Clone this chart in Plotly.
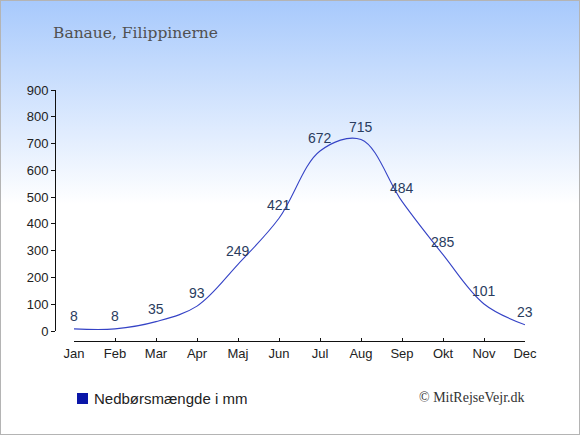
import plotly.graph_objects as go

# data
months = ['Jan', 'Feb', 'Mar', 'Apr', 'Maj', 'Jun', 'Jul', 'Aug', 'Sep', 'Okt', 'Nov', 'Dec']
rain_mm = [8, 8, 35, 93, 249, 421, 672, 715, 484, 285, 101, 23]
y_ticks = [0, 100, 200, 300, 400, 500, 600, 700, 800, 900]

title_text = 'Banaue, Filippinerne'
legend_text = 'Nedbørsmængde i mm'
credit_text = '© MitRejseVejr.dk'

W, H = 580, 435

# baggrund: lodret gradient fra lyseblå til hvid
bg_svg = (
    "data:image/svg+xml;utf8,"
    "<svg xmlns='http://www.w3.org/2000/svg' width='580' height='435' preserveAspectRatio='none'>"
    "<defs><linearGradient id='g' x1='0' y1='0' x2='0' y2='1'>"
    "<stop offset='0' stop-color='%23a7c9fc'/>"
    "<stop offset='0.47' stop-color='%23ffffff'/>"
    "<stop offset='1' stop-color='%23ffffff'/>"
    "</linearGradient></defs>"
    "<rect width='580' height='435' fill='url(%23g)'/></svg>"
)

fig = go.Figure()

fig.add_trace(go.Scatter(
    x=list(range(len(months))),
    y=rain_mm,
    mode='lines',
    line=dict(color='#3543c6', width=1.1, shape='spline', smoothing=1.0),
    cliponaxis=False,
    showlegend=False,
    hoverinfo='skip',
))

# værdier over kurven
annotations = []
for i, v in enumerate(rain_mm):
    annotations.append(dict(
        x=i, y=v, xref='x', yref='y', text=str(v), showarrow=False,
        xanchor='center', yanchor='middle', yshift=13,
        font=dict(family='Liberation Sans, Arial', size=14, color='#2a3c5e'),
    ))

annotations += [
    dict(text=title_text, xref='paper', yref='paper',
         x=51 / W, y=1 - 33 / H, xanchor='left', yanchor='middle',
         showarrow=False,
         font=dict(family='DejaVu Serif', size=15.5, color='#505050')),
    dict(text=legend_text, xref='paper', yref='paper',
         x=92 / W, y=1 - 398 / H, xanchor='left', yanchor='middle',
         showarrow=False,
         font=dict(family='Liberation Sans, Arial', size=15, color='#222222')),
    dict(text=credit_text, xref='paper', yref='paper',
         x=527 / W, y=1 - 397 / H, xanchor='right', yanchor='middle',
         showarrow=False,
         font=dict(family='Liberation Serif, Times New Roman', size=14, color='#333333')),
]

fig.update_layout(
    width=W, height=H,
    margin=dict(l=0, r=0, t=0, b=0, pad=0, autoexpand=False),
    paper_bgcolor='rgba(0,0,0,0)',
    plot_bgcolor='rgba(0,0,0,0)',
    showlegend=False,
    images=[dict(source=bg_svg, xref='paper', yref='paper', x=0, y=1,
                 sizex=1, sizey=1, sizing='stretch', layer='below')],
    xaxis=dict(
        domain=[74 / W, 525 / W],
        range=[0, len(months) - 1],
        anchor='free', position=94 / H,
        tickmode='array',
        tickvals=list(range(len(months))),
        ticktext=months,
        showline=True, linecolor='#111', linewidth=1,
        ticks='inside', ticklen=3, tickcolor='#111',
        showgrid=False, zeroline=False, automargin=False,
        tickfont=dict(family='Liberation Sans, Arial', size=13, color='#222'),
    ),
    yaxis=dict(
        domain=[104 / H, 345 / H],
        range=[0, 900],
        anchor='free', position=55 / W,
        tickmode='array',
        tickvals=y_ticks,
        showline=True, linecolor='#111', linewidth=1,
        ticks='outside', ticklen=4, tickcolor='#111',
        showgrid=False, zeroline=False, automargin=False,
        tickfont=dict(family='Liberation Sans, Arial', size=13, color='#222'),
    ),
    annotations=annotations,
    shapes=[
        # forklaringens firkant
        dict(type='rect', xref='paper', yref='paper',
             x0=77 / W, x1=88 / W, y0=1 - 404 / H, y1=1 - 393 / H,
             line=dict(color='#0a16a8', width=0), fillcolor='#0a16a8'),
        # ramme
        dict(type='rect', xref='paper', yref='paper', x0=0, y0=0, x1=1, y1=1,
             line=dict(color='#b4b4b4', width=2), fillcolor='rgba(0,0,0,0)'),
    ],
)

# siden skal ikke have margen
fig.write_html('out.html', config={'displayModeBar': False},
               post_script="document.body.style.margin='0';document.body.style.padding='0';")
